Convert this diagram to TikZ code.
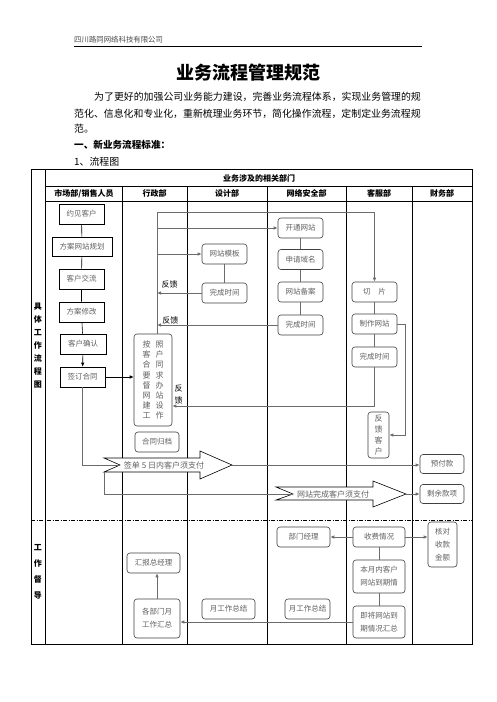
\documentclass[tikz,border=0pt]{standalone}
\usepackage{fontspec}
\setmainfont{Noto Sans CJK SC}
\usetikzlibrary{arrows.meta, positioning}
\definecolor{boxgray}{gray}{0.38}
\definecolor{linegray}{gray}{0.42}

\begin{document}
\begin{tikzpicture}[x=1pt, y=-1pt,
    every node/.style={inner sep=0pt},
    sbox/.style={draw, line width=0.6pt, text=boxgray, minimum height=20pt, font=\fontsize{7.5}{9}\selectfont},
    rbox/.style={draw=black!75, rounded corners=3pt, line width=0.6pt, text=boxgray, minimum height=20pt, align=center, font=\fontsize{7.5}{9}\selectfont},
    link/.style={draw=linegray, line width=0.8pt},
    tip/.style={link, -{Latex[length=4pt,width=3.5pt]}},
    head/.style={font=\bfseries\fontsize{8}{9}\selectfont}]
    \fill[white] (0,0) rectangle (496,702);
    \useasboundingbox (0,0) rectangle (496,702);

    % Page header and text
    \node (firm) [anchor=west, text=black!70, font=\fontsize{7.4}{8}\selectfont] at (74,40) {四川路同网络科技有限公司};
    \draw[line width=0.8pt] (74,46) -- (422,46);
    \node (title) [font=\bfseries\fontsize{18}{20}\selectfont] at (248.5,73) {业务流程管理规范};
    \node (para1) [anchor=west, font=\fontsize{9.9}{12}\selectfont] at (94,97) {为了更好的加强公司业务能力建设，完善业务流程体系，实现业务管理的规};
    \node (para2) [anchor=west, font=\fontsize{9.9}{12}\selectfont] at (74,114) {范化、信息化和专业化，重新梳理业务环节，简化操作流程，定制定业务流程规};
    \node (para3) [anchor=west, font=\fontsize{9.9}{12}\selectfont] at (74,129) {范。};
    \node (sec1) [anchor=west, font=\bfseries\fontsize{9.6}{12}\selectfont] at (74,145) {一、新业务流程标准：};
    \node (sub1) [anchor=west, font=\fontsize{9.9}{12}\selectfont] at (74,162) {1、流程图};

    % Table grid
    \draw[line width=0.8pt] (31,169) rectangle (472.5,644);
    \draw[line width=0.6pt] (45.5,169) -- (45.5,644);
    \draw[line width=0.6pt] (45.5,186) -- (472.5,186);
    \draw[line width=0.6pt] (45.5,201) -- (472.5,201);
    \foreach \x in {122,187,267,346,412}
        \draw[line width=0.6pt] (\x,186) -- (\x,644);
    \draw[line width=0.6pt, dash pattern=on 4pt off 1.5pt on 1pt off 1.5pt] (31,520) -- (472.5,520);

    % Headers
    \node (dept) [head] at (259,178) {业务涉及的相关部门};
    \node (hmkt) [head] at (84,193.5) {市场部/销售人员};
    \node (hadm) [head] at (154.5,193.5) {行政部};
    \node (hdes) [head] at (227,193.5) {设计部};
    \node (hnet) [head] at (306.5,193.5) {网络安全部};
    \node (hsvc) [head] at (379,193.5) {客服部};
    \node (hfin) [head] at (442,193.5) {财务部};
    \node (lflow) [align=center, font=\bfseries\fontsize{8}{13}\selectfont] at (38,346) {具\\体\\工\\作\\流\\程\\图};
    \node (lsup) [align=center, font=\bfseries\fontsize{8}{16}\selectfont] at (38,572) {工\\作\\督\\导};

    % Market / sales
    \node (m1) [sbox, minimum width=45pt] at (81.5,214) {约见客户};
    \node (m2) [sbox, minimum width=60pt, minimum height=19pt] at (82,246.5) {方案网站规划};
    \node (m3) [sbox, minimum width=45pt] at (81.5,279) {客户交流};
    \node (m4) [sbox, minimum width=45pt] at (81.5,312) {方案修改};
    \node (m5) [sbox, minimum width=46pt] at (83,344) {客户确认};
    \node (m6) [sbox, minimum width=45pt] at (82.5,377) {签订合同};

    % Administration
    \node (build) [rbox, minimum width=38pt, minimum height=92pt, font=\fontsize{8}{10.1}\selectfont] at (153,380)
        {按\hspace{5pt}照\\客\hspace{5pt}户\\合\hspace{5pt}同\\要\hspace{5pt}求\\督\hspace{5pt}办\\网\hspace{5pt}站\\建\hspace{5pt}设\\工\hspace{5pt}作};
    \node (archive) [rbox, minimum width=44pt] at (157,442) {合同归档};
    \coordinate (trunk) at (157,212);

    % Design
    \node (tmpl) [rbox, minimum width=45pt] at (224.5,254) {网站模板};
    \node (dtime) [rbox, minimum width=45pt] at (224.5,293) {完成时间};

    % Network security
    \node (open) [rbox, minimum width=45pt] at (300.5,228) {开通网站};
    \node (domain) [rbox, minimum width=45pt] at (300.5,259.5) {申请域名};
    \node (record) [rbox, minimum width=45pt] at (300.5,292) {网站备案};
    \node (ntime) [rbox, minimum width=45pt] at (300.5,325) {完成时间};

    % Customer service
    \node (cut) [rbox, minimum width=45pt] at (374.5,292) {切\hspace{8pt}片};
    \node (make) [rbox, minimum width=45pt] at (374.5,324) {制作网站};
    \node (stime) [rbox, minimum width=45pt] at (374.5,357) {完成时间};
    \node (reply) [rbox, minimum width=21pt, minimum height=46pt, font=\fontsize{8}{11}\selectfont] at (378.5,435) {反\\馈\\客\\户};

    % Finance
    \node (prepay) [rbox, minimum width=44pt, minimum height=19pt] at (442,464) {预付款};
    \node (remain) [rbox, minimum width=44pt, minimum height=19pt] at (442,494) {剩余款项};

    % Payment arrows
    \draw[fill=white, line width=0.6pt] (104,458) -- (200,458) -- (200,451) -- (232,465) -- (200,479) -- (200,472) -- (104,472) -- (120,465) -- cycle;
    \node (pay1) [font=\fontsize{8}{9}\selectfont, text=boxgray] at (164,465) {签单 5 日内客户须支付};
    \coordinate (notch1) at (120,465);
    \coordinate (tip1) at (232,465);
    \coordinate (tail1) at (104,472);
    \draw[fill=white, line width=0.6pt] (276,487) -- (373,487) -- (373,481) -- (406,494) -- (373,507) -- (373,500) -- (276,500) -- (293,494) -- cycle;
    \node (pay2) [font=\fontsize{8}{9}\selectfont, text=boxgray] at (333,494) {网站完成客户须支付};
    \coordinate (notch2) at (293,494);
    \coordinate (tip2) at (406,494);

    % Supervision
    \node (mgr) [rbox, minimum width=53pt] at (303.5,537) {部门经理};
    \node (fee) [rbox, minimum width=52pt] at (379,537) {收费情况};
    \node (check) [rbox, minimum width=29pt, minimum height=45pt, font=\fontsize{7.5}{13}\selectfont] at (442.5,544.5) {核对\\收款\\金额};
    \node (month) [rbox, minimum width=52pt, minimum height=33pt, font=\fontsize{7.5}{13}\selectfont] at (379,576.5) {本月内客户\\网站到期情};
    \node (soon) [rbox, minimum width=52pt, minimum height=32pt, font=\fontsize{7.5}{13}\selectfont] at (379,622) {即将网站到\\期情况汇总};
    \node (report) [rbox, minimum width=53pt] at (153.5,563) {汇报总经理};
    \node (deptsum) [rbox, minimum width=46pt, minimum height=39pt, font=\fontsize{7.5}{13}\selectfont] at (157,618.5) {各部门月\\工作汇总};
    \node (dsum) [rbox, minimum width=53pt] at (228.5,609) {月工作总结};
    \node (nsum) [rbox, minimum width=45pt] at (307.5,609) {月工作总结};

    % Connectors
    \draw[line width=0.6pt] (m1) -- (m2) -- (m3) -- (m4) -- (m5);
    \draw[line width=0.6pt, -{Latex[length=4pt,width=3.5pt]}] (m5) -- (m6);
    \draw[line width=0.6pt, -{Latex[length=4pt,width=3.5pt]}] (m6.east) -- (m6.east -| build.west);
    \draw[link] (trunk) -- (trunk |- build.north);
    \draw[tip] (trunk) -| (cut.north);
    \draw[tip] (trunk |- open.west) -- (open.west);
    \draw[tip] (trunk |- tmpl.west) -- (tmpl.west);
    \draw[link] (tmpl) -- (dtime);
    \draw[tip] (dtime.west) -- node[pos=0.72, above=4pt, font=\fontsize{8}{9}\selectfont] (fb1) {反馈} (dtime.west -| trunk);
    \draw[link] (open) -- (domain) -- (record) -- (ntime);
    \draw[tip] (ntime.west) -- node[pos=0.89, above=0.5pt, font=\fontsize{8}{9}\selectfont] (fb2) {反馈} (ntime.west -| trunk);
    \draw[link] (cut) -- (make) -- (stime);
    \draw[tip] (stime.south) |- ([yshift=-26pt]build.east)
        node[anchor=south west, xshift=2pt, yshift=1.5pt, align=center, font=\fontsize{8}{12}\selectfont] (fb3) {反\\馈};
    \draw[tip] (make.east) -- ++(8,0) |- (reply.east);
    \draw[link] (m6.south) |- (notch1);
    \draw[tip] (tip1) -- (tip1 -| prepay.west);
    \draw[link] (tail1) |- (notch2);
    \draw[tip] (tip2) -- (tip2 -| remain.west);
    \draw[tip] (fee) -- (mgr);
    \draw[tip] (fee.east) -- (fee.east -| check.west);
    \draw[link] (fee) -- (month) -- (soon);
    \draw[tip] (soon.west) -- (soon.west -| deptsum.east);
    \draw[tip] (deptsum.north) -- (deptsum.north |- report.south);
  \end{tikzpicture}
\end{document}
